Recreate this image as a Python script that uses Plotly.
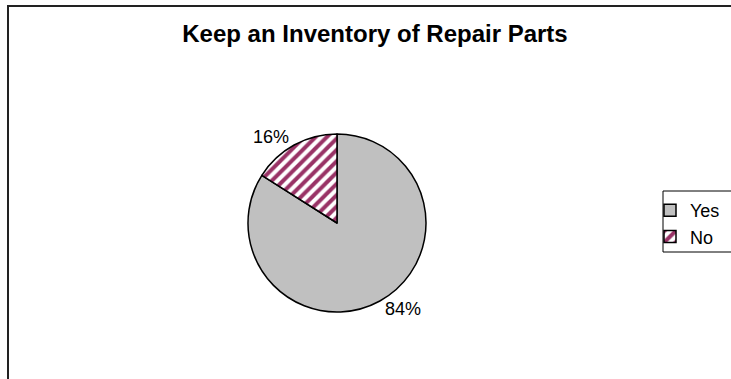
import plotly.graph_objects as go

W, H = 731, 379

categories = ["Yes", "No"]
values = [84, 16]
title_text = "Keep an Inventory of Repair Parts"

cx, cy, r = 337, 223, 89

fig = go.Figure(go.Pie(
    labels=categories,
    values=values,
    sort=False,
    direction="clockwise",
    rotation=0,
    textinfo="percent",
    textposition="outside",
    texttemplate="%{percent:.0%}",
    textfont=dict(family="Arial, Liberation Sans", size=18, color="black"),
    marker=dict(
        colors=["#C0C0C0", "white"],
        line=dict(color="black", width=1.5),
        pattern=dict(shape=["", "/"], fgcolor="#993366", bgcolor="white",
                     size=8, solidity=0.5, fillmode="replace"),
    ),
    domain=dict(x=[(cx - r) / W, (cx + r) / W], y=[(H - cy - r) / H, (H - cy + r) / H]),
    showlegend=True,
    hoverinfo="skip",
))

fig.update_layout(
    width=W, height=H,
    margin=dict(l=0, r=0, t=0, b=0),
    paper_bgcolor="white",
    plot_bgcolor="white",
    font=dict(family="Arial, Liberation Sans", color="black"),
    title=dict(text="<b>" + title_text + "</b>", x=375 / W, xanchor="center",
               y=1 - 34 / H, yanchor="middle",
               font=dict(size=24, family="Arial, Liberation Sans", color="black")),
    legend=dict(x=650 / W, y=1 - 192 / H, xanchor="left", yanchor="top",
                borderwidth=0, bgcolor="rgba(0,0,0,0)",
                font=dict(size=18, family="Arial, Liberation Sans", color="black"),
                itemclick=False),
    shapes=[
        dict(type="rect", xref="paper", yref="paper",
             x0=8 / W, x1=1.05, y0=-0.05, y1=1 - 6 / H,
             line=dict(color="#222", width=2), layer="below"),
        dict(type="rect", xref="paper", yref="paper",
             x0=663 / W, x1=1.05, y0=1 - 252 / H, y1=1 - 191 / H,
             line=dict(color="black", width=1), fillcolor="white", layer="below"),
    ],
)

fig.write_html("out.html", config={"displayModeBar": False},
               post_script="document.body.style.margin='0';")
